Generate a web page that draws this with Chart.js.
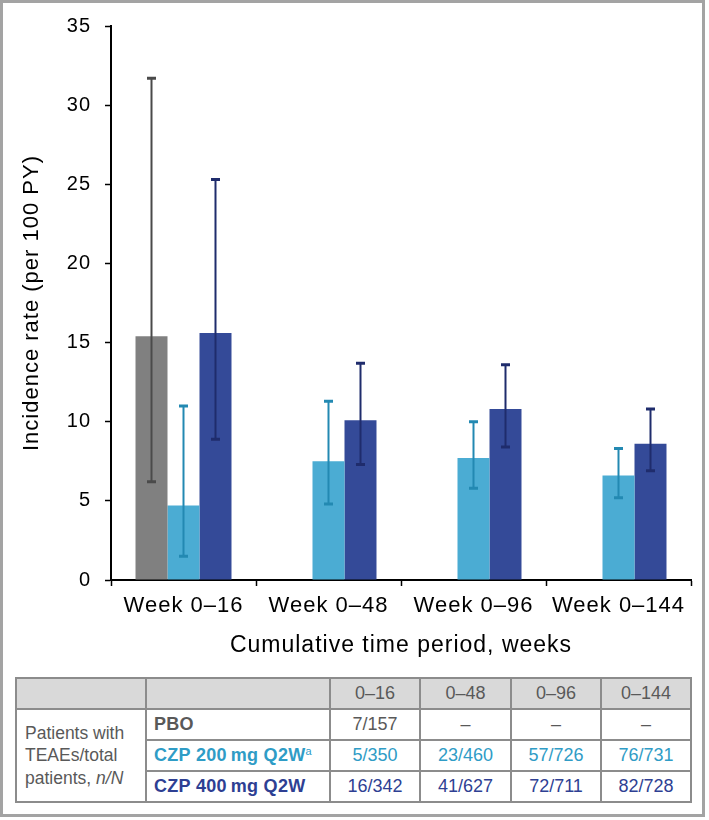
<!DOCTYPE html>
<html><head><meta charset="utf-8">
<script src="https://cdn.jsdelivr.net/npm/chart.js@4.4.1/dist/chart.umd.min.js"></script>
<style>
html,body{margin:0;padding:0;background:#fff;}
body{width:709px;height:820px;position:relative;overflow:hidden;font-family:"Liberation Sans",Arial,sans-serif;}
#frame{position:absolute;left:0;top:0;width:699px;height:811px;border:3px solid #a3a3a3;pointer-events:none;}
#chartBox{position:absolute;left:0;top:0;width:709px;height:670px;}
#tbl{position:absolute;left:15px;top:677px;border-collapse:collapse;table-layout:fixed;width:675px;font-size:18px;}
#tbl td{border:2px solid #8c8c8c;padding:0;text-align:center;vertical-align:middle;color:#595959;white-space:nowrap;overflow:visible;}
#tbl tr.hdr td{background:#d9d9d9;height:29px;}
#tbl tr.row td{height:29px;}
#tbl td.side{text-align:left;padding-left:8px;line-height:22.5px;color:#595959;font-size:17.5px;}
#tbl td.lab{text-align:left;padding-left:7px;font-weight:bold;letter-spacing:0.3px;}
#tbl sup{font-size:11px;font-weight:normal;vertical-align:6px;line-height:0;letter-spacing:0;}
</style>
</head>
<body>
<div id="chartBox"><canvas id="c" width="709" height="670"></canvas></div>
<table id="tbl">
<colgroup><col style="width:130px"><col style="width:184px"><col style="width:90px"><col style="width:91px"><col style="width:90px"><col style="width:90px"></colgroup>
<tbody id="tbody"></tbody>
</table>
<div id="frame"></div>
<script>
// ---- Chart data ----
const categories = ['Week 0–16', 'Week 0–48', 'Week 0–96', 'Week 0–144'];
const pboRate    = [15.4, null, null, null];
const pboLow     = [6.2, null, null, null];
const pboHigh    = [31.7, null, null, null];
const czp200Rate = [4.7, 7.5, 7.7, 6.6];
const czp200Low  = [1.5, 4.8, 5.8, 5.2];
const czp200High = [11.0, 11.3, 10.0, 8.3];
const czp400Rate = [15.6, 10.1, 10.8, 8.6];
const czp400Low  = [8.9, 7.3, 8.4, 6.9];
const czp400High = [25.3, 13.7, 13.6, 10.8];
const yMin = 0, yMax = 35, yStep = 5;

// ---- Table data ----
const periodHeaders = ['0–16', '0–48', '0–96', '0–144'];
const rowLabels = ['PBO', 'CZP 200 mg Q2W', 'CZP 400 mg Q2W'];
const rowSup = ['', 'a', ''];
const pboCounts    = ['7/157', '–', '–', '–'];
const czp200Counts = ['5/350', '23/460', '57/726', '76/731'];
const czp400Counts = ['16/342', '41/627', '72/711', '82/728'];

const colPBO = '#808080', colC200 = '#4bacd3', colC400 = '#344a98';
const errPBO = '#4a4a4a', errC200 = '#2389b2', errC400 = '#1f2c6c';
const txtC200 = '#2f9cc6', txtC400 = '#2e3f93';

// Build table
(function(){
  const tb = document.getElementById('tbody');
  let h = '<tr class="hdr"><td></td><td></td>' + periodHeaders.map(p => '<td>' + p + '</td>').join('') + '</tr>';
  const rows = [pboCounts, czp200Counts, czp400Counts];
  const colors = ['#595959', txtC200, txtC400];
  rows.forEach((r, i) => {
    h += '<tr class="row">';
    if (i === 0) h += '<td class="side" rowspan="3">Patients with<br>TEAEs/total<br>patients, <i>n/N</i></td>';
    h += '<td class="lab" style="color:' + colors[i] + '">' + rowLabels[i].replace('200 mg','200&#8239;mg').replace('400 mg','400&#8239;mg') + (rowSup[i] ? '<sup>' + rowSup[i] + '</sup>' : '') + '</td>';
    h += r.map(v => '<td style="color:' + colors[i] + '">' + v + '</td>').join('');
    h += '</tr>';
  });
  tb.innerHTML = h;
})();

const errorBarPlugin = {
  id: 'errorBars',
  afterDatasetsDraw(chart) {
    const ctx = chart.ctx, ys = chart.scales.y;
    chart.data.datasets.forEach((ds, i) => {
      const meta = chart.getDatasetMeta(i);
      meta.data.forEach((bar, j) => {
        const lo = ds.errLow[j], hi = ds.errHigh[j];
        if (lo == null || hi == null || ds.data[j] == null) return;
        const x = bar.x, y1 = ys.getPixelForValue(hi), y0 = ys.getPixelForValue(lo);
        ctx.save();
        ctx.strokeStyle = ds.errColor;
        ctx.lineWidth = 2;
        ctx.beginPath(); ctx.moveTo(x, y1); ctx.lineTo(x, y0); ctx.stroke();
        ctx.lineWidth = 3;
        ctx.beginPath();
        ctx.moveTo(x - 4.5, y1); ctx.lineTo(x + 4.5, y1);
        ctx.moveTo(x - 4.5, y0); ctx.lineTo(x + 4.5, y0);
        ctx.stroke();
        ctx.restore();
      });
    });
  }
};
const spacingPlugin = { id: 'spacing', beforeDraw(chart) { chart.ctx.letterSpacing = '1px'; } };

const FONT = '"Liberation Sans", Arial, sans-serif';
new Chart(document.getElementById('c'), {
  type: 'bar',
  data: {
    labels: categories,
    datasets: [
      { label: 'PBO', data: pboRate, errLow: pboLow, errHigh: pboHigh, errColor: errPBO, backgroundColor: colPBO },
      { label: 'CZP 200 mg Q2W', data: czp200Rate, errLow: czp200Low, errHigh: czp200High, errColor: errC200, backgroundColor: colC200 },
      { label: 'CZP 400 mg Q2W', data: czp400Rate, errLow: czp400Low, errHigh: czp400High, errColor: errC400, backgroundColor: colC400 }
    ]
  },
  options: {
    responsive: false,
    animation: false,
    events: [],
    categoryPercentage: 0.662,
    barPercentage: 1.0,
    layout: { padding: { top: 24, right: 18, left: 0, bottom: 0 } },
    plugins: { legend: { display: false }, tooltip: { enabled: false } },
    scales: {
      x: {
        grid: { offset: true, drawOnChartArea: false, color: '#000', tickColor: '#000', tickLength: 6, tickWidth: 1.5 },
        border: { color: '#000', width: 2 },
        ticks: { color: '#000', font: { family: FONT, size: 22 }, padding: 7, maxRotation: 0, autoSkip: false },
        title: { display: true, text: 'Cumulative time period, weeks', color: '#000', font: { family: FONT, size: 23 }, padding: { top: 0, bottom: 11 } },
        afterFit(s) { s.height = 90; }
      },
      y: {
        min: yMin, max: yMax,
        grid: { drawOnChartArea: false, color: '#000', tickColor: '#000', tickLength: 6, tickWidth: 1.5 },
        border: { color: '#000', width: 2 },
        ticks: { stepSize: yStep, color: '#000', font: { family: FONT, size: 20 }, padding: 14 },
        title: { display: true, text: 'Incidence rate (per 100 PY)', color: '#000', font: { family: FONT, size: 22 }, padding: { top: 19, bottom: 0 } },
        afterFit(s) { s.width = 111; }
      }
    }
  },
  plugins: [errorBarPlugin, spacingPlugin]
});
</script>
</body></html>
